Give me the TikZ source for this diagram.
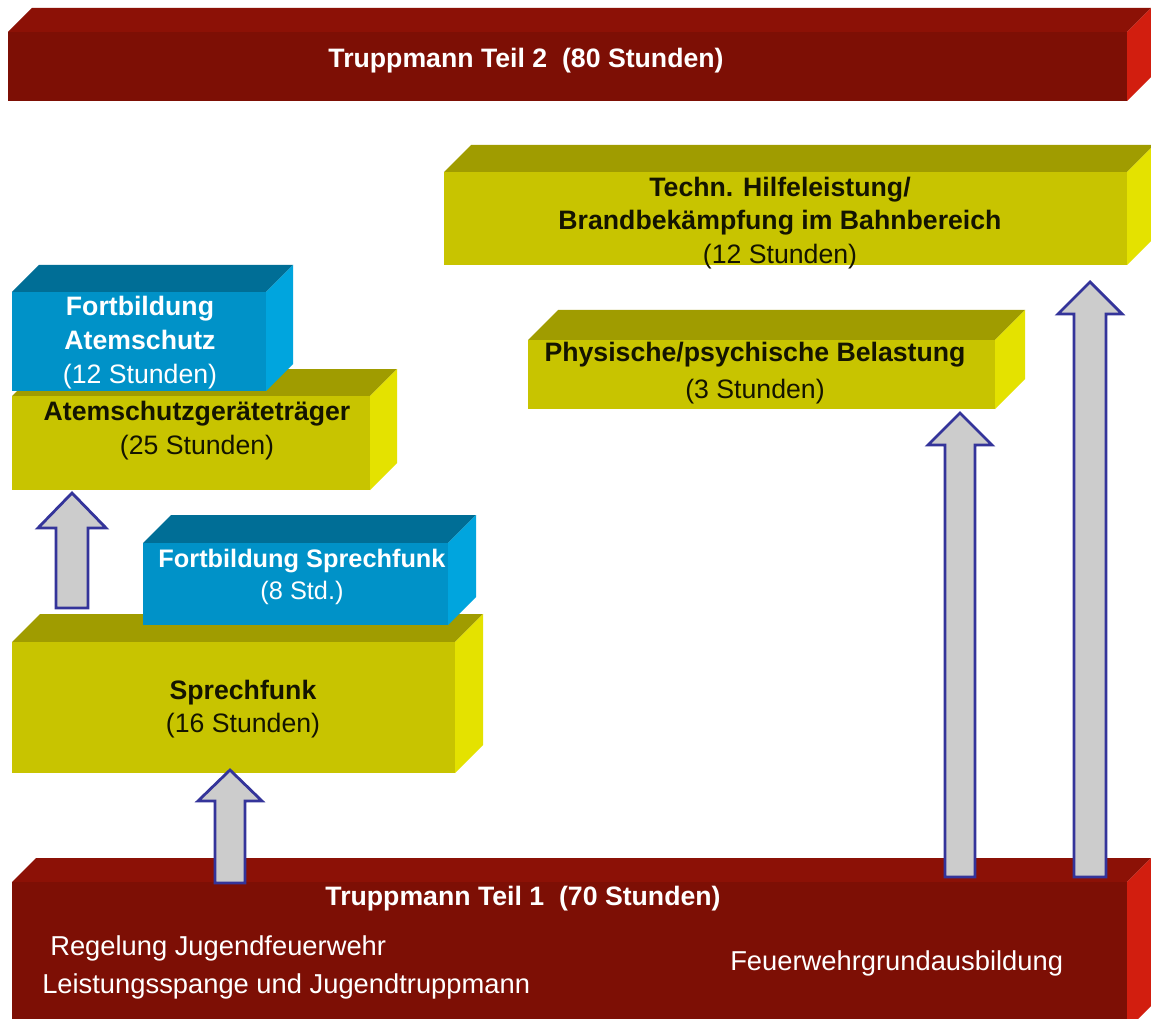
\documentclass[tikz,border=0pt]{standalone}
\usepackage{fontspec}
\setmainfont{Liberation Sans}
\usetikzlibrary{calc}
\definecolor{redfront}{HTML}{7D0F05}
\definecolor{redtop}{HTML}{8C1106}
\definecolor{redside}{HTML}{D21E0F}
\definecolor{yelfront}{HTML}{C8C400}
\definecolor{yeltop}{HTML}{A09C00}
\definecolor{yelside}{HTML}{E4E200}
\definecolor{bluefront}{HTML}{0092C8}
\definecolor{bluetop}{HTML}{006E96}
\definecolor{blueside}{HTML}{00A5DE}
\definecolor{arrowfill}{HTML}{CCCCCC}
\definecolor{arrowline}{HTML}{34349A}
\definecolor{darktext}{HTML}{141400}
% #1 name, #2 x1, #3 y1, #4 x2, #5 y2, #6 depth, #7 colour prefix
\newcommand\quader[7]{%
  \fill[#7top] (#2,#3) -- (#2+#6,#3-#6) -- (#4+#6,#3-#6) -- (#4,#3) -- cycle;
  \fill[#7side] (#4,#3) -- (#4+#6,#3-#6) -- (#4+#6,#5-#6) -- (#4,#5) -- cycle;
  \fill[#7front] (#2,#3) rectangle (#4,#5);
  \coordinate (#1) at ({(#2+#4)/2},{(#3+#5)/2});
}
% #1 start, #2 tip, #3 shaft half width, #4 head half width, #5 head length
\newcommand\blockarrow[5]{%
  \draw[barrow] ($(#1)+(-#3,0)$) -- ($(#1)+(#3,0)$) -- ($(#2)+(#3,#5)$) -- ($(#2)+(#4,#5)$)
    -- (#2) -- ($(#2)+(-#4,#5)$) -- ($(#2)+(-#3,#5)$) -- cycle;
}
\tikzset{
  barrow/.style={fill=arrowfill, draw=arrowline, line width=2.1pt, line join=miter},
  lbl/.style={align=center, inner sep=0pt, font=\fontsize{20}{25}\selectfont},
  wtext/.style={lbl, text=white},
  dtext/.style={lbl, text=darktext},
  bottext/.style={wtext, anchor=west, font=\fontsize{20.5}{25}\selectfont},
}
\begin{document}
\begin{tikzpicture}[x=0.75pt, y=-0.75pt]
\fill[white] (0,0) rectangle (1151,1019);
\useasboundingbox (0,0) rectangle (1151,1019);

% boxes
\quader{teil2}{8}{32}{1127}{101}{24}{red}
\quader{techn}{444}{172}{1127}{265}{27}{yel}
\quader{phys}{528}{340}{995}{409}{30}{yel}
\quader{agt}{12}{396}{370}{490}{27}{yel}
\quader{fbas}{12}{292}{266}{391}{27}{blue}
\quader{sprech}{12}{642}{455}{773}{28}{yel}
\quader{fbsp}{143}{543}{448}{625}{28}{blue}
\quader{teil1}{12}{882}{1127}{1030}{24}{red}

% texts
\node[wtext, font=\bfseries\fontsize{20}{25}\selectfont] (t2) at (526,61) {Truppmann Teil 2\ \ (80 Stunden)};
\node[dtext] (tt) at (780,223) {\textbf{Techn. Hilfeleistung/}\\\textbf{Brandbekämpfung im Bahnbereich}\\(12 Stunden)};
\node[dtext, font=\fontsize{20}{28}\selectfont] (tp) at (755,373) {\textbf{Physische/psychische Belastung}\\(3 Stunden)};
\node[wtext, font=\fontsize{20}{25.5}\selectfont] (tfa) at (140,343) {\textbf{Fortbildung}\\\textbf{Atemschutz}\\(12 Stunden)};
\node[dtext, font=\fontsize{20}{25.5}\selectfont] (tagt) at (197,431) {\textbf{Atemschutzgeräteträger}\\(25 Stunden)};
\node[wtext, font=\fontsize{19}{23.5}\selectfont] (tfs) at (302,577) {\textbf{Fortbildung Sprechfunk}\\(8 Std.)};
\node[dtext] (ts) at (243,709) {\textbf{Sprechfunk}\\(16 Stunden)};
\node[wtext, font=\bfseries\fontsize{20}{25}\selectfont] (t1) at (523,899) {Truppmann Teil 1\ \ (70 Stunden)};
\node[bottext] (treg) at (50,948) {Regelung Jugendfeuerwehr};
\node[bottext] (tlei) at (42,986) {Leistungsspange und Jugendtruppmann};
\node[bottext] (tfgr) at (730,963) {Feuerwehrgrundausbildung};

% arrows
\coordinate (aAs) at (72,608);  \coordinate (aAt) at (72,493);
\coordinate (aBs) at (230,883); \coordinate (aBt) at (230,770);
\coordinate (aCs) at (960,877); \coordinate (aCt) at (960,413);
\coordinate (aDs) at (1090,877); \coordinate (aDt) at (1090,282);
\blockarrow{aAs}{aAt}{16}{34}{35}
\blockarrow{aBs}{aBt}{15}{32}{31}
\blockarrow{aCs}{aCt}{15}{32}{32}
\blockarrow{aDs}{aDt}{16}{32}{32}
\end{tikzpicture}
\end{document}
